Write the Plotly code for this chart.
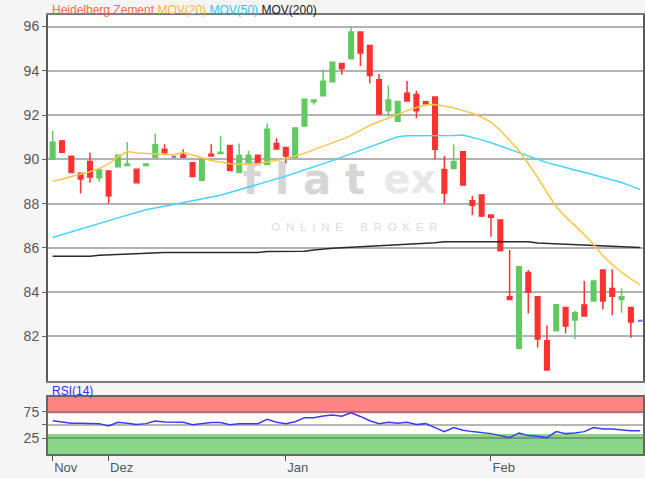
import plotly.graph_objects as go

# ---------------- data ----------------
dates = [
    "2017-11-23", "2017-11-24", "2017-11-27", "2017-11-28", "2017-11-29", "2017-11-30",
    "2017-12-01", "2017-12-04", "2017-12-05", "2017-12-06", "2017-12-07", "2017-12-08",
    "2017-12-11", "2017-12-12", "2017-12-13", "2017-12-14", "2017-12-15",
    "2017-12-18", "2017-12-19", "2017-12-20", "2017-12-21", "2017-12-22",
    "2017-12-27", "2017-12-28", "2017-12-29",
    "2018-01-02", "2018-01-03", "2018-01-04", "2018-01-05",
    "2018-01-08", "2018-01-09", "2018-01-10", "2018-01-11", "2018-01-12",
    "2018-01-15", "2018-01-16", "2018-01-17", "2018-01-18", "2018-01-19",
    "2018-01-22", "2018-01-23", "2018-01-24", "2018-01-25", "2018-01-26",
    "2018-01-29", "2018-01-30", "2018-01-31",
    "2018-02-01", "2018-02-02",
    "2018-02-05", "2018-02-06", "2018-02-07", "2018-02-08", "2018-02-09",
    "2018-02-12", "2018-02-13", "2018-02-14", "2018-02-15", "2018-02-16",
    "2018-02-19", "2018-02-20", "2018-02-21", "2018-02-22", "2018-02-23",
]

opens = [90.00, 90.83, 90.14, 89.37, 89.90, 89.17, 89.47, 89.67, 89.72, 89.55,
         89.72, 90.09, 90.45, 90.12, 90.20, 89.85, 89.06, 90.23, 90.26, 90.62,
         89.40, 89.79, 90.18, 89.77, 90.71, 90.53, 90.09, 91.51, 92.60, 92.87,
         93.50, 94.33, 94.54, 95.75, 95.14, 93.59, 92.20, 91.72, 92.99, 92.93,
         92.60, 92.82, 89.54, 89.59, 90.34, 88.13, 88.39, 87.48, 87.26, 83.79,
         81.46, 84.89, 83.79, 81.80, 82.26, 83.31, 82.74, 83.42, 83.60, 85.00,
         84.17, 83.67, 83.31, 82.71]
highs = [91.28, 90.87, 90.14, 89.37, 90.30, 89.52, 89.47, 90.18, 90.78, 89.55,
         89.79, 91.16, 90.68, 90.12, 90.45, 89.85, 90.00, 90.68, 91.06, 90.62,
         90.72, 90.39, 90.18, 91.63, 90.95, 90.57, 91.42, 92.71, 92.68, 94.07,
         94.39, 94.33, 96.00, 95.75, 95.14, 93.85, 93.33, 92.61, 93.54, 93.10,
         92.65, 92.82, 90.15, 90.67, 90.34, 88.34, 88.39, 87.48, 87.26, 85.90,
         85.15, 85.00, 83.79, 82.51, 83.43, 83.31, 83.16, 84.50, 84.50, 85.00,
         85.03, 84.17, 83.31, 82.71]
lows = [90.00, 90.32, 89.40, 88.46, 88.94, 88.99, 88.00, 89.67, 89.72, 88.94,
        89.72, 90.09, 90.30, 90.12, 90.09, 89.22, 89.06, 90.15, 90.26, 89.49,
        89.40, 89.79, 89.82, 89.77, 90.47, 89.82, 90.09, 91.51, 92.46, 92.87,
        93.50, 93.82, 94.54, 94.22, 93.44, 92.00, 91.93, 91.72, 92.64, 91.86,
        92.50, 90.00, 88.00, 89.59, 88.84, 87.48, 87.40, 86.50, 85.87, 83.67,
        81.46, 83.04, 81.50, 80.48, 82.26, 82.14, 81.88, 82.92, 83.60, 83.22,
        82.96, 83.07, 81.94, 82.71]
closes = [90.77, 90.32, 89.40, 89.11, 89.20, 89.52, 88.36, 90.18, 89.79, 88.94,
          89.79, 90.66, 90.30, 90.12, 90.09, 89.22, 90.00, 90.15, 90.32, 89.49,
          90.17, 90.18, 89.82, 91.36, 90.47, 90.15, 91.42, 92.71, 92.68, 93.53,
          94.39, 94.09, 95.75, 94.80, 93.79, 92.05, 92.68, 92.61, 92.64, 92.20,
          92.50, 90.45, 88.48, 89.89, 88.84, 87.93, 87.44, 87.38, 85.87, 83.67,
          85.15, 83.99, 81.88, 80.48, 83.43, 82.47, 83.07, 82.92, 84.50, 83.60,
          83.82, 83.79, 82.65, 82.71]

mov20 = [89.02, 89.10, 89.22, 89.32, 89.44, 89.59, 89.79, 90.12, 90.35, 90.29,
         90.27, 90.24, 90.20, 90.21, 90.32, 90.20, 90.05, 89.95, 89.88, 89.80,
         89.78, 89.78, 89.80, 89.88, 89.95, 90.03, 90.15, 90.27, 90.44, 90.59,
         90.74, 90.90, 91.08, 91.32, 91.53, 91.70, 91.87, 92.04, 92.20, 92.34,
         92.46, 92.48, 92.40, 92.33, 92.20, 92.08, 91.90, 91.68, 91.30, 90.85,
         90.40, 89.80, 89.20, 88.50, 87.86, 87.40, 87.00, 86.60, 86.15, 85.65,
         85.25, 84.90, 84.60, 84.33]
mov50 = [86.47, 86.60, 86.72, 86.85, 86.98, 87.12, 87.25, 87.36, 87.48, 87.60,
         87.72, 87.80, 87.88, 87.95, 88.04, 88.12, 88.20, 88.28, 88.38, 88.50,
         88.62, 88.74, 88.86, 88.98, 89.10, 89.24, 89.38, 89.52, 89.64, 89.78,
         89.94, 90.10, 90.25, 90.42, 90.58, 90.72, 90.88, 91.02, 91.06, 91.06,
         91.06, 91.05, 91.05, 91.08, 91.10, 91.00, 90.88, 90.75, 90.60, 90.45,
         90.30, 90.15, 90.00, 89.85, 89.74, 89.62, 89.52, 89.42, 89.30, 89.20,
         89.09, 88.95, 88.80, 88.64]
mov200 = [85.62, 85.62, 85.62, 85.62, 85.62, 85.67, 85.69, 85.71, 85.73, 85.75,
          85.76, 85.77, 85.79, 85.79, 85.79, 85.79, 85.79, 85.79, 85.79, 85.79,
          85.79, 85.79, 85.79, 85.84, 85.85, 85.85, 85.85, 85.85, 85.90, 85.95,
          85.98, 86.00, 86.03, 86.05, 86.08, 86.10, 86.12, 86.14, 86.16, 86.18,
          86.20, 86.23, 86.28, 86.28, 86.28, 86.28, 86.28, 86.28, 86.28, 86.28,
          86.28, 86.28, 86.22, 86.20, 86.18, 86.16, 86.14, 86.12, 86.10, 86.08,
          86.06, 86.05, 86.03, 86.02]

rsi14 = [58.0, 55.0, 53.0, 53.0, 53.0, 52.5, 48.0, 55.0, 53.0, 51.0,
         52.5, 57.5, 55.6, 55.6, 55.0, 50.6, 52.5, 54.4, 54.4, 50.6,
         52.5, 52.5, 52.5, 60.6, 55.0, 52.5, 56.0, 63.75, 63.75, 67.0,
         68.75, 66.25, 73.0, 66.0, 58.0, 52.5, 55.0, 53.0, 55.0, 51.0,
         52.5, 45.0, 37.5, 45.0, 40.0, 37.5, 36.0, 33.75, 30.0, 26.25,
         35.0, 30.0, 28.75, 26.25, 37.5, 33.75, 35.0, 37.5, 45.0, 42.5,
         42.5, 41.0, 39.0, 39.0]

month_ticks = ["2017-11-23", "2017-12-01", "2018-01-02", "2018-02-01"]
month_labels = ["Nov", "Dez", "Jan", "Feb"]
price_ticks = [82, 84, 86, 88, 90, 92, 94, 96]
rsi_ticks = [25, 50, 75]
rsi_labels = ["25", "", "75"]

# ---------------- styling ----------------
GREEN = "#62c962"
RED = "#ff3131"
BLUE = "#6b6bff"
FONT = "Liberation Sans, Arial, sans-serif"

doji = [o == c for o, c in zip(opens, closes)]
nd_idx = [i for i, d in enumerate(doji) if not d]
dj_idx = [i for i, d in enumerate(doji) if d]

fig = go.Figure()

# moving averages
fig.add_trace(go.Scatter(x=dates, y=mov200, mode="lines",
                         line=dict(color="#2a2a2a", width=1.5), xaxis="x", yaxis="y"))
fig.add_trace(go.Scatter(x=dates, y=mov50, mode="lines",
                         line=dict(color="#45d3ff", width=1.5), xaxis="x", yaxis="y"))
fig.add_trace(go.Scatter(x=dates, y=mov20, mode="lines",
                         line=dict(color="#ffc44a", width=1.5), xaxis="x", yaxis="y"))

# candles
fig.add_trace(go.Candlestick(
    x=[dates[i] for i in nd_idx],
    open=[opens[i] for i in nd_idx], high=[highs[i] for i in nd_idx],
    low=[lows[i] for i in nd_idx], close=[closes[i] for i in nd_idx],
    increasing=dict(line=dict(color=GREEN, width=1.5), fillcolor=GREEN),
    decreasing=dict(line=dict(color=RED, width=1.5), fillcolor=RED),
    whiskerwidth=0, xaxis="x", yaxis="y"))
fig.add_trace(go.Candlestick(
    x=[dates[i] for i in dj_idx],
    open=[opens[i] for i in dj_idx], high=[highs[i] for i in dj_idx],
    low=[lows[i] for i in dj_idx], close=[closes[i] for i in dj_idx],
    increasing=dict(line=dict(color=BLUE, width=2), fillcolor=BLUE),
    decreasing=dict(line=dict(color=BLUE, width=2), fillcolor=BLUE),
    whiskerwidth=0, xaxis="x", yaxis="y"))

# RSI
fig.add_trace(go.Scatter(x=dates, y=rsi14, mode="lines",
                         line=dict(color="#3a3aff", width=1.5), xaxis="x2", yaxis="y2"))

shapes = [
    # RSI zones
    dict(type="rect", xref="x2 domain", yref="y2", x0=0, x1=1, y0=72, y1=102.6,
         fillcolor="#ff8585", line=dict(width=0), layer="below"),
    dict(type="rect", xref="x2 domain", yref="y2", x0=0, x1=1, y0=-4.5, y1=33,
         fillcolor="#88d788", line=dict(width=0), layer="below"),
    # watermark
    dict(type="rect", xref="paper", yref="paper", x0=0.28, x1=0.58, y0=0.583, y1=0.683,
         fillcolor="rgba(0,0,0,0)", line=dict(width=0), layer="below",
         label=dict(text="f\u2004l\u2004a\u2004t", textposition="middle center",
                    font=dict(family="DejaVu Sans, sans-serif", size=42, color="#d6d6d6",
                              weight="bold"))),
    dict(type="rect", xref="paper", yref="paper", x0=0.56, x1=0.656, y0=0.583, y1=0.683,
         fillcolor="rgba(0,0,0,0)", line=dict(width=0), layer="below",
         label=dict(text="ex", textposition="middle center",
                    font=dict(family="DejaVu Sans, sans-serif", size=40, color="#e8e8e8",
                              weight="bold"))),
    dict(type="rect", xref="paper", yref="paper", x0=0.35, x1=0.68, y0=0.50, y1=0.54,
         fillcolor="rgba(0,0,0,0)", line=dict(width=0), layer="below",
         label=dict(text="O\u2002N\u2002L\u2002I\u2002N\u2002E\u2003\u2002B\u2002R\u2002O\u2002K\u2002E\u2002R",
                    textposition="middle center",
                    font=dict(family=FONT, size=11.5, color="#dcdcdc"))),
]

title_html = ('<span style="color:#ff6a48">Heidelberg Zement</span> '
              '<span style="color:#ffb52e">MOV(20)</span> '
              '<span style="color:#2fc8f5">MOV(50)</span> '
              '<span style="color:#1a1a1a">MOV(200)</span>')

annotations = [
    dict(text=title_html, xref="paper", yref="paper", x=0.0035, y=1.0125,
         xanchor="left", yanchor="middle", showarrow=False,
         font=dict(family=FONT, size=12)),
    dict(text="RSI(14)", xref="paper", yref="paper", x=0.0035, y=0.1435,
         xanchor="left", yanchor="middle", showarrow=False,
         font=dict(family=FONT, size=12, color="#3030ff")),
]

fig.update_layout(
    template="none",
    width=645, height=478,
    margin=dict(l=48, r=2, t=15, b=24, autoexpand=False),
    paper_bgcolor="#f5f5f5", plot_bgcolor="#ffffff",
    showlegend=False, hovermode=False,
    shapes=shapes, annotations=annotations,
    xaxis=dict(type="category", range=[-0.5, 63.3], anchor="y", automargin=False,
               showticklabels=False, ticks="", showgrid=False,
               rangeslider=dict(visible=False),
               showline=True, mirror=True, linecolor="#7a7a7a", linewidth=1.5),
    yaxis=dict(domain=[0.167, 1.0], range=[80.0, 96.52], anchor="x", automargin=False,
               tickvals=price_ticks, ticks="outside", ticklen=4, tickcolor="#666",
               tickfont=dict(family=FONT, size=14, color="#555"),
               showgrid=True, gridcolor="#b2b2b2", gridwidth=1.5, zeroline=False,
               showline=True, mirror=True, linecolor="#5a5a5a", linewidth=2),
    xaxis2=dict(type="category", matches="x", anchor="y2", automargin=False,
                tickvals=month_ticks, ticktext=month_labels,
                ticks="outside", ticklen=5, tickcolor="#555", tickwidth=1,
                ticklabelposition="outside right",
                tickfont=dict(family=FONT, size=13, color="#4a5a6b"),
                showgrid=False,
                showline=True, mirror=True, linecolor="#666", linewidth=2),
    yaxis2=dict(domain=[0.0, 0.13], range=[-4.5, 102.6], anchor="x2", automargin=False,
                tickvals=rsi_ticks, ticktext=rsi_labels,
                ticks="outside", ticklen=4, tickcolor="#666",
                tickfont=dict(family=FONT, size=14, color="#555"),
                showgrid=True, gridcolor="rgba(80,80,80,0.42)", gridwidth=1.5,
                zeroline=False,
                showline=True, mirror=True, linecolor="#666", linewidth=2),
)

# remove the default 8px page margin so the figure fills the window exactly
fig.write_html("out.html", config={"displayModeBar": False},
               post_script="document.body.style.margin='0';")
